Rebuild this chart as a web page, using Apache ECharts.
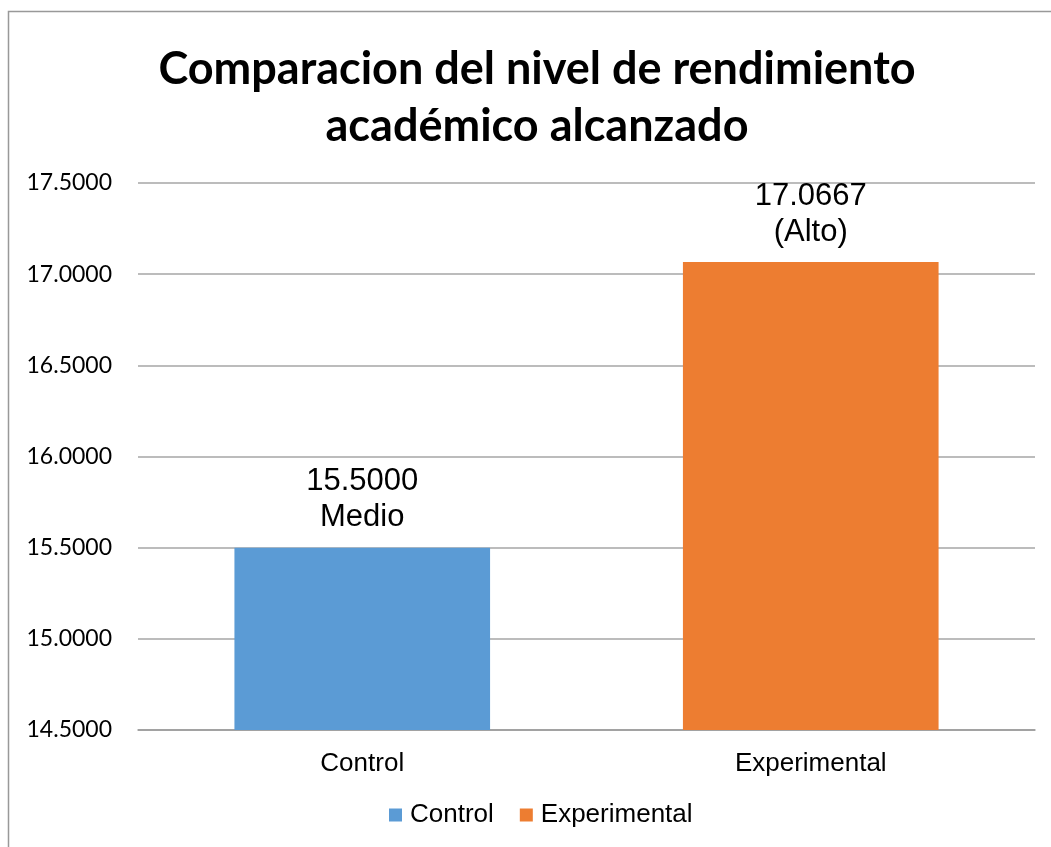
<!DOCTYPE html>
<html><head><meta charset="utf-8">
<script src="https://cdn.jsdelivr.net/npm/echarts@6/dist/echarts.min.js"></script>
<style>html,body{margin:0;padding:0;background:#fff}#c{width:1051px;height:847px}</style>
</head><body><div id="c"></div>
<script>
const categories = ['Control', 'Experimental'];
const seriesNames = ['Control', 'Experimental'];
const values = [15.5, 17.0667];
const levelLabels = ['Medio', '(Alto)'];
const colors = ['#5B9BD5', '#ED7D31'];
const yTicks = [14.5, 15.0, 15.5, 16.0, 16.5, 17.0, 17.5];

const chart = echarts.init(document.getElementById('c'), null, {renderer: 'canvas'});
const series = seriesNames.map((name, i) => ({
  name: name,
  type: 'bar',
  stack: 'g',
  barWidth: '57%',
  itemStyle: {color: colors[i]},
  data: categories.map((c, j) => j === i ? values[j] : null),
  label: {
    show: true, position: 'top', distance: 12,
    fontFamily: 'Liberation Sans', fontSize: 31, color: '#000', lineHeight: 36,
    formatter: p => p.value.toFixed(4) + '\n' + levelLabels[i]
  }
}));
chart.setOption({
  animation: false,
  title: {
    text: 'Comparacion del nivel de rendimiento\nacadémico alcanzado',
    left: 532, textAlign: 'center', top: 36,
    textStyle: {fontFamily: 'Lato', fontWeight: 'bold', fontSize: 45, lineHeight: 57, color: '#000'}
  },
  graphic: [{type: 'rect', shape: {x: 8.5, y: 11.5, width: 1100, height: 900}, style: {fill: 'none', stroke: '#999', lineWidth: 1.5}, z: -1}],
  legend: {
    bottom: 14, left: 384, itemWidth: 13, itemHeight: 13, itemGap: 26,
    icon: 'rect',
    textStyle: {fontFamily: 'Liberation Sans', fontSize: 26, color: '#000', padding: [0,0,0,3]},
    data: seriesNames
  },
  grid: {left: 138, right: 16, top: 183, bottom: 117},
  xAxis: {
    type: 'category', data: categories,
    axisLine: {lineStyle: {color: '#999', width: 1.5}},
    axisTick: {show: false},
    axisLabel: {fontFamily: 'Liberation Sans', fontSize: 26, color: '#000', margin: 21}
  },
  yAxis: {
    type: 'value', min: yTicks[0], max: yTicks[yTicks.length - 1], interval: 0.5,
    axisLine: {show: false}, axisTick: {show: false},
    splitLine: {lineStyle: {color: '#A6A6A6', width: 1.5}},
    axisLabel: {fontFamily: 'Lato', fontSize: 23, color: '#000', margin: 26, formatter: v => v.toFixed(4)}
  },
  series: series
});
</script></body></html>
